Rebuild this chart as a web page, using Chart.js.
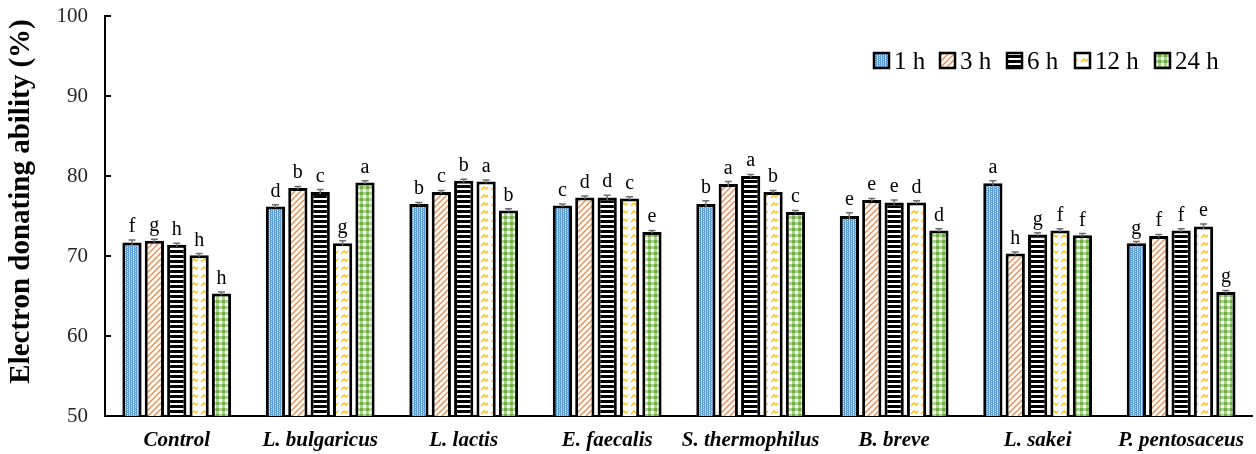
<!DOCTYPE html>
<html><head><meta charset="utf-8">
<script src="https://cdn.jsdelivr.net/npm/chart.js@4.4.1/dist/chart.umd.min.js"></script>
<style>html,body{margin:0;padding:0;background:#fff;} #wrap{width:1256px;height:454px;position:relative;}</style>
</head><body><div id="wrap"><canvas id="c"></canvas></div>
<script>
const categories = ['Control','L. bulgaricus','L. lactis','E. faecalis','S. thermophilus','B. breve','L. sakei','P. pentosaceus'];
const seriesNames = ['1 h','3 h','6 h','12 h','24 h'];
const values1h  = [71.7,76.2,76.5,76.3,76.5,75.0,79.1,71.6];
const values3h  = [71.9,78.5,78.0,77.3,79.0,77.0,70.3,72.5];
const values6h  = [71.4,78.0,79.4,77.3,80.0,76.7,72.7,73.2];
const values12h = [70.1,71.6,79.3,77.2,78.0,76.7,73.2,73.7];
const values24h = [65.3,79.2,75.7,73.0,75.5,73.2,72.6,65.5];
const err1h  = [0.3,0.2,0.2,0.2,0.4,0.4,0.3,0.2];
const err3h  = [0.2,0.2,0.2,0.2,0.3,0.2,0.2,0.2];
const err6h  = [0.2,0.3,0.2,0.3,0.2,0.3,0.2,0.2];
const err12h = [0.2,0.3,0.2,0.2,0.2,0.2,0.2,0.3];
const err24h = [0.2,0.2,0.2,0.2,0.2,0.2,0.2,0.2];
const letters1h  = ['f','d','b','c','b','e','a','g'];
const letters3h  = ['g','b','c','d','a','e','h','f'];
const letters6h  = ['h','c','b','d','a','e','g','f'];
const letters12h = ['h','g','a','c','b','d','f','e'];
const letters24h = ['h','a','b','e','c','d','f','g'];
const yTicks = [50,60,70,80,90,100];
const yTitle = 'Electron donating ability (%)';

function mkPat(w,h,draw){const c=document.createElement('canvas');c.width=w;c.height=h;const x=c.getContext('2d');draw(x,w,h);return x.createPattern(c,'repeat');}
const pat1 = mkPat(4,2,(x)=>{x.fillStyle='#5b9bd5';x.fillRect(0,0,4,2);x.fillStyle='rgba(255,255,255,0.75)';x.fillRect(1,0,1,1);x.fillRect(3,1,1,1);x.fillStyle='rgba(255,255,255,0.35)';x.fillRect(1,1,1,1);});
const pat2 = mkPat(6,6,(x)=>{x.fillStyle='#fff';x.fillRect(0,0,6,6);x.strokeStyle='#f08a4b';x.lineWidth=1.4;x.beginPath();x.moveTo(-1,7);x.lineTo(7,-1);x.moveTo(-1,1);x.lineTo(1,-1);x.moveTo(5,7);x.lineTo(7,5);x.stroke();});
const pat3 = mkPat(2,5,(x)=>{x.fillStyle='#fff';x.fillRect(0,0,2,5);x.fillStyle='#000';x.fillRect(0,0,2,3);});
const pat4 = mkPat(10,8,(x)=>{x.fillStyle='#fff';x.fillRect(0,0,10,8);x.strokeStyle='#ffc000';x.lineWidth=1.3;x.beginPath();x.moveTo(1,6);x.lineTo(4,3);x.lineTo(6,5);x.lineTo(8,3);x.stroke();});
const pat5 = mkPat(6,6,(x)=>{x.fillStyle='#fff';x.fillRect(0,0,6,6);x.fillStyle='#a9d18e';x.fillRect(0,0,3,6);x.fillRect(0,0,6,3);x.fillStyle='#70ad47';x.fillRect(0,0,3,3);});
const pats=[pat1,pat2,pat3,pat4,pat5];
const vals=[values1h,values3h,values6h,values12h,values24h];
const errs=[err1h,err3h,err6h,err12h,err24h];
const lets=[letters1h,letters3h,letters6h,letters12h,letters24h];

const datasets = seriesNames.map((n,i)=>({label:n,data:vals[i],backgroundColor:pats[i],borderColor:'#000',borderWidth:3,borderSkipped:'bottom',categoryPercentage:0.78,barPercentage:0.86}));

const extras = {
  id:'extras',
  afterDatasetsDraw(chart){
    const ctx=chart.ctx, y=chart.scales.y, ca=chart.chartArea;
    ctx.save();
    datasets.forEach((ds,i)=>{
      const meta=chart.getDatasetMeta(i);
      meta.data.forEach((el,j)=>{
        const v=vals[i][j], e=errs[i][j];
        const yt=y.getPixelForValue(v+e), yb=y.getPixelForValue(v-e);
        ctx.strokeStyle='#6f6f6f';ctx.lineWidth=1.5;
        ctx.beginPath();ctx.moveTo(el.x,yt);ctx.lineTo(el.x,yb);
        ctx.moveTo(el.x-3.5,yt);ctx.lineTo(el.x+3.5,yt);ctx.stroke();
        ctx.fillStyle='#000';ctx.font='20px "Liberation Serif"';ctx.textAlign='center';ctx.textBaseline='alphabetic';
        ctx.fillText(lets[i][j],el.x,yt-8);
      });
    });
    ctx.strokeStyle='#000';ctx.lineWidth=2;
    yTicks.forEach(t=>{const py=y.getPixelForValue(t);ctx.beginPath();ctx.moveTo(ca.left,py);ctx.lineTo(ca.left+6,py);ctx.stroke();});
    const lx=[874,940,1007,1075,1155];
    ctx.font='25px "Liberation Serif"';ctx.textAlign='left';ctx.textBaseline='alphabetic';
    seriesNames.forEach((n,i)=>{
      ctx.fillStyle=pats[i];ctx.fillRect(lx[i],53,15,15);
      ctx.strokeStyle='#000';ctx.lineWidth=2.5;ctx.strokeRect(lx[i],53,15,15);
      ctx.fillStyle='#000';ctx.fillText(n,lx[i]+20,69);
    });
    ctx.restore();
  }
};

new Chart(document.getElementById('c'),{
  type:'bar',
  data:{labels:categories,datasets},
  options:{
    responsive:true,maintainAspectRatio:false,animation:false,
    layout:{padding:{top:16,right:1,left:0,bottom:0}},
    plugins:{legend:{display:false},tooltip:{enabled:false}},
    scales:{
      x:{grid:{display:false,drawTicks:false},border:{display:true,color:'#000',width:2},
         ticks:{padding:12,color:'#000',font:{family:'Liberation Serif',size:21,style:'italic',weight:'bold'}},
         afterFit(s){s.height=38;}},
      y:{min:50,max:100,grid:{display:false,drawTicks:false},border:{display:true,color:'#000',width:2},
         afterBuildTicks(s){s.ticks=yTicks.map(v=>({value:v}));},
         ticks:{padding:17,color:'#262626',font:{family:'Liberation Serif',size:21}},
         title:{display:true,text:'    '+yTitle,color:'#000',font:{family:'Liberation Serif',size:29,weight:'bold'},padding:{top:4,bottom:0}},
         afterFit(s){s.width=105;s.paddingTop=0;s.paddingBottom=0;}}
    }
  },
  plugins:[extras]
});
</script></body></html>
